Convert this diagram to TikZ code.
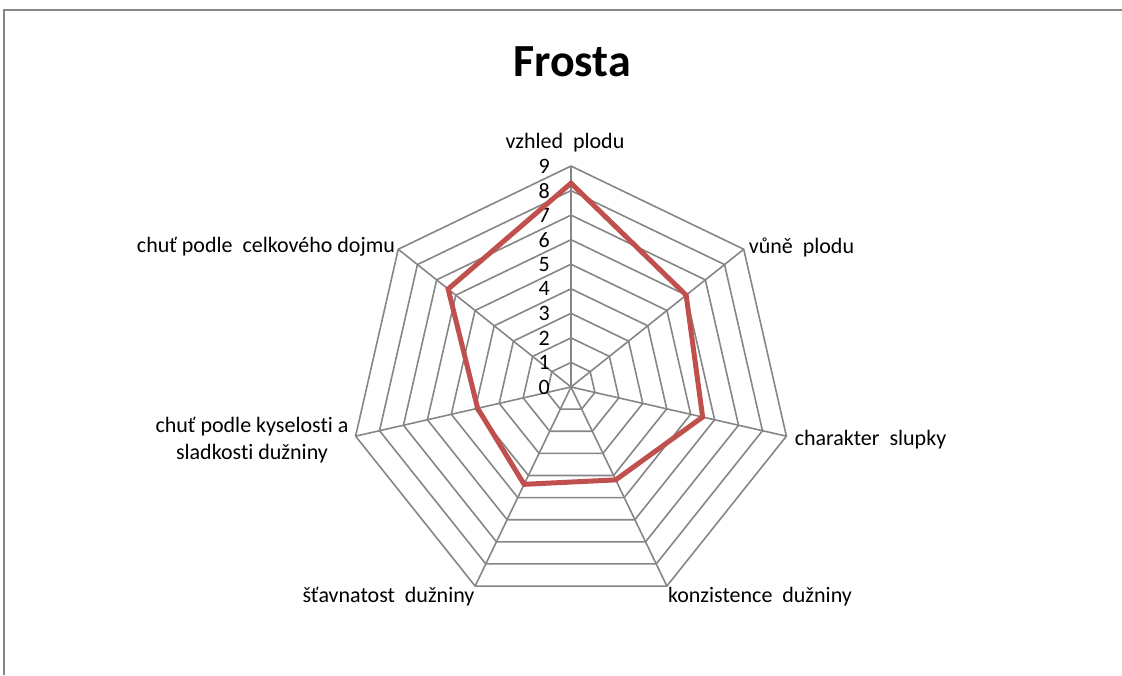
\documentclass[tikz,border=0pt]{standalone}
\usepackage{fontspec}
\setmainfont{Carlito}[Ligatures=NoCommon]
\definecolor{gridgray}{RGB}{134,134,134}
\definecolor{seriesred}{RGB}{192,80,77}

\begin{document}
\begin{tikzpicture}[x=1pt,y=1pt,
  grid/.style={draw=gridgray,line width=1.6pt},
  series/.style={draw=seriesred,line width=5pt,line join=miter},
  axislabel/.style={font=\fontsize{22}{27}\selectfont,inner sep=0pt,align=center},
  ticklabel/.style={font=\fontsize{22}{26}\selectfont,inner sep=0pt,anchor=east}]
\useasboundingbox (-571,-288) rectangle (551,387);
% frame
\draw[gridgray,line width=1.6pt] (-567,-288) -- (-567,377) -- (551,377);
\node[font=\fontsize{46}{50}\selectfont\bfseries] (title) at (1,325) {Frosta};
% rings and spokes
\foreach \r in {1,...,9}
  \draw[grid] (90:\r*24.55) \foreach \k in {1,...,6} {-- (90-\k*360/7:\r*24.55)} -- cycle;
\foreach \k in {0,...,6} {
  \coordinate (ax\k) at (90-\k*360/7:221);
  \draw[grid] (0,0) -- (ax\k);
}
% scale
\foreach \n in {0,...,9}
  \node[ticklabel] (t\n) at (-21,\n*24.55) {\n};
% axis labels
\node[axislabel] (l0) at (-6,244) {vzhled\ \ plodu};
\node[axislabel] (l1) at (230.5,140) {vůně\ \ plodu};
\node[axislabel] (l2) at (299.5,-53) {charakter\ \ slupky};
\node[axislabel] (l3) at (189,-210) {konzistence\ \ dužniny};
\node[axislabel] (l4) at (-182.5,-210) {šťavnatost\ \ dužniny};
\node[axislabel] (l5) at (-319,-53) {chuť podle kyselosti a\\sladkosti dužniny};
\node[axislabel] (l6) at (-305,140) {chuť podle\ \ celkového dojmu};
% data
\foreach \v [count=\k from 0] in {8.3,6.0,5.5,4.2,4.4,3.9,6.4}
  \coordinate (p\k) at (90-\k*360/7:\v*24.55);
\draw[series] (p0) -- (p1) -- (p2) -- (p3) -- (p4) -- (p5) -- (p6) -- cycle;
\end{tikzpicture}
\end{document}
